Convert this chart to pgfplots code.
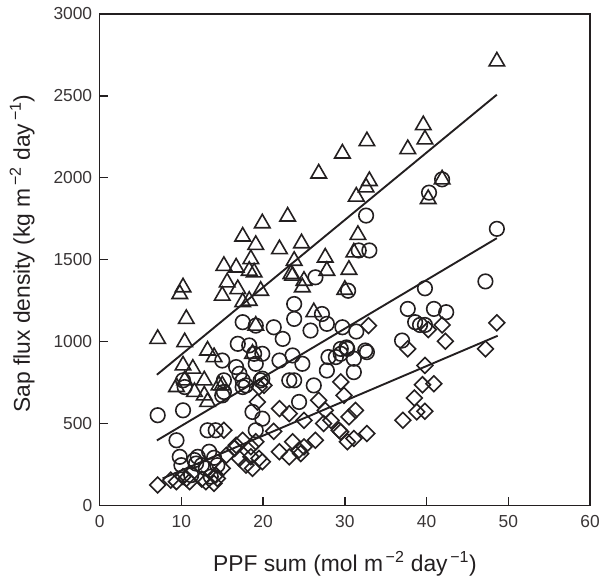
\documentclass[border=0pt]{standalone}
\usepackage{fontspec}
\setmainfont{Liberation Sans}
\usepackage{pgfplots}
\pgfplotsset{compat=1.18}
\definecolor{ink}{HTML}{231F20}
\begin{document}
\begin{tikzpicture}[x=1bp,y=1bp]
\begin{axis}[
  scale only axis, width=492bp, height=493bp,
  xmin=0, xmax=60, ymin=0, ymax=3000,
  xtick={0,10,...,60}, ytick={0,500,...,3000},
  tick align=inside, xtick pos=bottom, ytick pos=left,
  major tick length=8bp,
  axis line style={ink, line width=1.4bp},
  every tick/.style={ink, line width=1.4bp},
  /pgf/number format/assume math mode=true,
  /pgf/number format/1000 sep={},
  tick label style={font=\fontsize{17.5}{20}\selectfont, text=ink!90},
  xticklabel style={yshift=-7bp},
  yticklabel style={xshift=-4bp},
  xlabel={PPF sum (mol m\textsuperscript{\,−2} day\textsuperscript{\,−1})},
  ylabel={Sap flux density (kg m\textsuperscript{\,−2} day\textsuperscript{\,−1})},
  label style={font=\fontsize{23}{26}\selectfont, text=ink},
  xlabel style={at={(axis description cs:0.5,-0.1339)}, anchor=base},
  ylabel style={at={(axis description cs:-0.1423,0.512)}, anchor=base},
  clip=false,
]
% triangles
\addplot[only marks, mark=triangle, mark size=9bp, ink, mark options={line width=1.6bp, fill=none}] coordinates {
(7.1,1016) (9.4,722) (9.8,1290) (10.2,1331) (10.2,854) (10.4,996) (10.4,763) (10.6,1138)
(11.4,834) (11.6,692) (12.8,763) (12.8,671) (13.2,945) (13.2,631) (14.0,905) (14.6,732)
(15.0,732) (15.2,1462) (15.0,1280) (15.6,1361) (16.7,1452) (16.9,1320) (17.5,1641)
(17.5,1240) (18.3,1432) (18.3,1249) (18.5,1503) (18.7,925) (18.9,1422) (19.1,1590)
(19.1,1097) (19.7,1310) (19.9,1722) (22.0,1564) (23.0,1763) (23.4,1412) (23.6,1402)
(23.8,1493) (24.7,1600) (24.8,1331) (25.0,1371) (26.2,1179) (26.8,2026) (27.6,1513)
(27.8,1432) (29.7,2148) (30.0,1316) (30.5,1438) (31.1,1544) (31.4,1885) (31.6,1651)
(32.6,1941) (32.7,2223) (33.0,1980) (37.7,2175) (39.6,2321) (39.8,2234) (40.2,1870)
(41.9,1990) (48.6,2710)
};
% circles
\addplot[only marks, mark=o, mark size=7.3bp, ink, mark options={line width=1.6bp}] coordinates {
(7.1,550) (9.4,397) (9.8,296) (10.0,245) (10.2,580) (10.2,763) (10.4,722) (11.2,184)
(11.6,276) (11.8,255) (12.0,296) (12.5,245) (13.0,225) (13.2,458) (13.4,327) (13.6,175)
(14.0,290) (14.2,458) (14.4,245) (15.0,884) (15.0,671) (15.2,763) (15.2,692) (16.7,844)
(16.9,986) (17.1,803) (17.5,1118) (17.5,763) (17.5,722) (17.9,732) (18.3,976) (18.7,570)
(18.9,925) (19.1,1097) (19.1,864) (19.1,458) (19.7,763) (19.9,925) (19.9,773) (19.9,529)
(21.3,1087) (22.0,884) (22.4,1016) (23.2,763) (23.6,915) (23.8,763) (23.8,1229)
(23.8,1138) (24.4,631) (24.8,864) (25.8,1067) (26.2,732) (26.4,1392) (27.2,1168)
(27.8,1108) (27.8,823) (28.0,905) (28.9,905) (29.5,925) (29.5,955) (29.7,1087)
(30.2,964) (30.3,955) (30.4,1310) (31.1,895) (31.1,813) (31.4,1061) (31.7,1556)
(32.5,945) (32.6,1769) (32.7,935) (33.0,1556) (37.0,1006) (37.7,1199) (38.6,1118)
(39.2,1101) (39.8,1101) (39.8,1325) (40.3,1909) (40.9,1199) (41.9,1990) (42.4,1179)
(47.2,1367) (48.6,1688)
};
% diamonds
\addplot[only marks, mark=square, mark size=5.6bp, ink, mark options={line width=1.6bp, rotate=45}] coordinates {
(7.1,124) (8.7,154) (9.4,144) (10.2,175) (10.6,164) (11.0,144) (12.5,160) (13.0,144)
(14.0,134) (14.2,184) (14.4,164) (15.0,225) (15.2,458) (15.5,306) (16.5,347) (16.7,367)
(17.1,286) (17.5,397) (17.9,245) (18.5,357) (18.5,296) (18.7,225) (19.1,388) (19.3,631)
(19.5,722) (19.5,286) (19.9,266) (20.1,732) (21.3,452) (22.0,590) (22.0,327) (23.2,560)
(23.2,296) (23.6,388) (24.4,337) (24.6,316) (25.0,519) (25.0,357) (26.4,397) (26.8,641)
(27.4,499) (27.6,580) (28.3,519) (29.3,458) (29.5,448) (29.5,753) (29.9,671) (30.3,388)
(30.5,540) (31.1,408) (31.3,580) (32.7,438) (32.9,1097) (37.1,519) (37.7,955) (38.5,655)
(38.8,570) (39.5,736) (39.8,574) (39.8,854) (40.2,1073) (40.9,742) (41.9,1101)
(42.3,1002) (47.2,955) (48.6,1114)
};
% regression lines
\addplot[ink, line width=1.9bp] coordinates {(7.0,797) (48.6,2507)};
\addplot[ink, line width=1.9bp] coordinates {(7.0,396) (48.6,1631)};
\addplot[ink, line width=1.9bp] coordinates {(7.7,164) (48.7,1035)};
\end{axis}
\path (current axis.south west) ++(-100bp,-69bp) coordinate (bl);
\path (current axis.north east) ++(11bp,14bp) coordinate (tr);
\useasboundingbox (bl) rectangle (tr);
\end{tikzpicture}
\end{document}
